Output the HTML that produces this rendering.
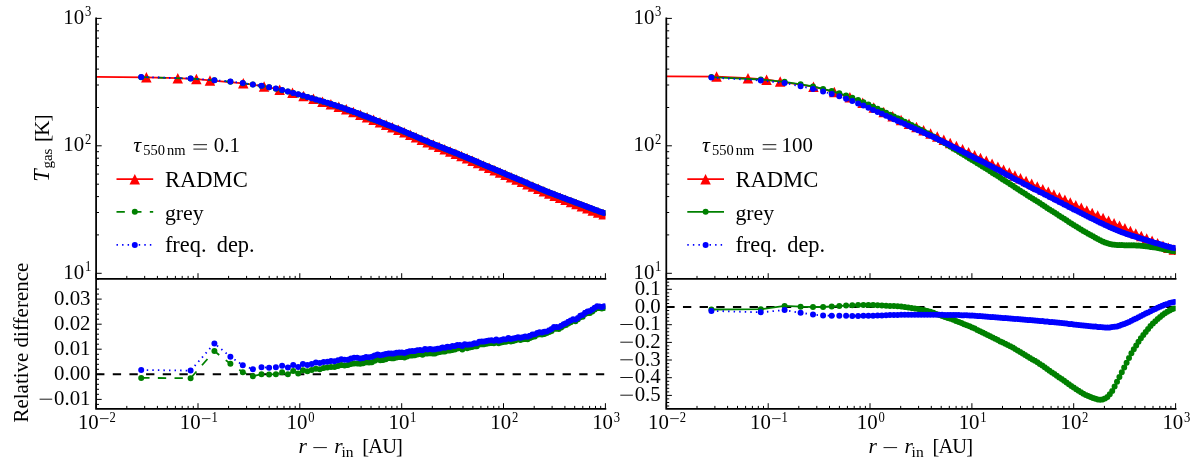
<!DOCTYPE html>
<html><head><meta charset="utf-8"><title>Gas temperature profiles</title>
<style>html,body{margin:0;padding:0;background:#fff}svg{display:block}text{font-family:"Liberation Serif",serif}</style>
</head><body>
<svg width="1200" height="460" viewBox="0 0 1200 460">
<rect width="1200" height="460" fill="#fff"/>
<defs>
<clipPath id="cu0"><rect x="96.1" y="18.4" width="509.4" height="260.4"/></clipPath>
<clipPath id="cl0"><rect x="96.1" y="278.8" width="509.4" height="130"/></clipPath>
<clipPath id="cu1"><rect x="666.3" y="18.4" width="509.4" height="260.4"/></clipPath>
<clipPath id="cl1"><rect x="666.3" y="278.8" width="509.4" height="130"/></clipPath>
</defs>
<g clip-path="url(#cu0)" fill="none">
<path d="M91.1 76.8 L146.4 77.3 L177.8 78.2 L196.4 79.1 L210 80.4 L243.3 83.3 L264.1 86.4 L279.7 89.7 L292.5 92.9 L303.6 96 L313.5 98.9 L322.5 101.6 L330.9 104.2 L338.8 106.7 L346.3 109.4 L353.4 112.1 L360.4 114.7 L367.1 117.3 L373.6 119.8 L380 122.3 L386.2 124.8 L392.4 127.2 L398.4 129.7 L404.4 132.1 L410.3 134.6 L416.1 137.2 L421.9 139.8 L427.7 142.2 L433.4 144.6 L439.1 146.9 L444.7 149.2 L450.3 151.4 L455.9 153.7 L461.5 156 L467.1 158.3 L472.6 160.7 L478.1 163 L483.7 165.4 L489.2 167.8 L494.7 170.1 L500.1 172.4 L505.6 174.8 L511.1 177.1 L516.6 179.5 L522 181.8 L527.5 184.1 L532.9 186.5 L538.4 188.8 L543.9 191.1 L549.3 193.4 L554.7 195.6 L560.2 197.7 L565.6 199.8 L571.1 201.9 L576.5 204 L581.9 206.1 L587.4 208.3 L592.8 210.4 L598.2 212.6 L603.7 214.2 L609.1 214.4" stroke="#f00" stroke-width="1.8"/>
<path d="M146.4 72l5.2 10.5h-10.5zM177.8 72.9l5.2 10.5h-10.5zM196.4 73.8l5.2 10.5h-10.5zM210 75.2l5.2 10.5h-10.5zM243.3 78.1l5.2 10.5h-10.5zM264.1 81.2l5.2 10.5h-10.5zM279.7 84.4l5.2 10.5h-10.5zM292.5 87.6l5.2 10.5h-10.5zM303.6 90.7l5.2 10.5h-10.5zM313.5 93.6l5.2 10.5h-10.5zM322.5 96.4l5.2 10.5h-10.5zM330.9 98.9l5.2 10.5h-10.5zM338.8 101.5l5.2 10.5h-10.5zM346.3 104.1l5.2 10.5h-10.5zM353.4 106.8l5.2 10.5h-10.5zM360.4 109.5l5.2 10.5h-10.5zM367.1 112l5.2 10.5h-10.5zM373.6 114.5l5.2 10.5h-10.5zM380 117l5.2 10.5h-10.5zM386.2 119.5l5.2 10.5h-10.5zM392.4 122l5.2 10.5h-10.5zM398.4 124.4l5.2 10.5h-10.5zM404.4 126.9l5.2 10.5h-10.5zM410.3 129.4l5.2 10.5h-10.5zM416.1 131.9l5.2 10.5h-10.5zM421.9 134.5l5.2 10.5h-10.5zM427.7 137l5.2 10.5h-10.5zM433.4 139.3l5.2 10.5h-10.5zM439.1 141.6l5.2 10.5h-10.5zM444.7 143.9l5.2 10.5h-10.5zM450.3 146.2l5.2 10.5h-10.5zM455.9 148.5l5.2 10.5h-10.5zM461.5 150.7l5.2 10.5h-10.5zM467.1 153.1l5.2 10.5h-10.5zM472.6 155.4l5.2 10.5h-10.5zM478.1 157.8l5.2 10.5h-10.5zM483.7 160.2l5.2 10.5h-10.5zM489.2 162.5l5.2 10.5h-10.5zM494.7 164.9l5.2 10.5h-10.5zM500.1 167.2l5.2 10.5h-10.5zM505.6 169.5l5.2 10.5h-10.5zM511.1 171.9l5.2 10.5h-10.5zM516.6 174.2l5.2 10.5h-10.5zM522 176.5l5.2 10.5h-10.5zM527.5 178.9l5.2 10.5h-10.5zM532.9 181.2l5.2 10.5h-10.5zM538.4 183.6l5.2 10.5h-10.5zM543.9 185.9l5.2 10.5h-10.5zM549.3 188.2l5.2 10.5h-10.5zM554.7 190.4l5.2 10.5h-10.5zM560.2 192.5l5.2 10.5h-10.5zM565.6 194.6l5.2 10.5h-10.5zM571.1 196.7l5.2 10.5h-10.5zM576.5 198.8l5.2 10.5h-10.5zM581.9 200.9l5.2 10.5h-10.5zM587.4 203l5.2 10.5h-10.5zM592.8 205.2l5.2 10.5h-10.5zM598.2 207.3l5.2 10.5h-10.5zM603.7 209l5.2 10.5h-10.5zM609.1 209.1l5.2 10.5h-10.5z" fill="#f00"/>
<path d="M141.2 77.2 L190.6 78.6 L214.4 80.3 L230.4 81.7 L242.8 83.2 L252.9 84.6 L261.5 86 L269.1 87.3 L275.9 88.8 L282.1 90.2 L287.9 91.6 L293.2 93 L298.2 94.4 L302.9 95.7 L307.4 97 L311.7 98.3 L315.9 99.5 L319.8 100.7 L323.7 101.8 L327.4 103 L331 104.1 L334.5 105.2 L338 106.3 L341.3 107.4 L344.6 108.6 L347.9 109.8 L351 110.9 L354.1 112.1 L357.2 113.3 L360.2 114.4 L363.2 115.5 L366.1 116.6 L369 117.8 L371.9 118.9 L374.7 119.9 L377.6 121 L380.3 122.1 L383.1 123.2 L385.8 124.3 L388.6 125.4 L391.3 126.4 L393.9 127.5 L396.6 128.6 L399.3 129.6 L401.9 130.7 L404.5 131.8 L407.1 132.9 L409.7 134 L412.3 135.1 L414.9 136.2 L417.4 137.3 L420 138.4 L422.5 139.6 L425 140.6 L427.6 141.7 L430.1 142.8 L432.6 143.8 L435.1 144.8 L437.6 145.8 L440.1 146.8 L442.6 147.8 L445 148.8 L447.5 149.8 L450 150.8 L452.5 151.8 L454.9 152.8 L457.4 153.7 L459.8 154.7 L462.3 155.8 L464.7 156.7 L467.2 157.8 L469.6 158.8 L472.1 159.8 L474.5 160.8 L476.9 161.9 L479.3 162.9 L481.8 163.9 L484.2 165 L486.6 166 L489 167 L491.5 168.1 L493.9 169.1 L496.3 170.1 L498.7 171.1 L501.1 172.2 L503.5 173.2 L506 174.2 L508.4 175.2 L510.8 176.3 L513.2 177.3 L515.6 178.3 L518 179.3 L520.4 180.3 L522.8 181.3 L525.2 182.4 L527.6 183.4 L530 184.4 L532.4 185.4 L534.8 186.4 L537.2 187.4 L539.6 188.4 L542 189.5 L544.4 190.5 L546.8 191.5 L549.2 192.4 L551.6 193.4 L554 194.3 L556.4 195.2 L558.8 196.2 L561.2 197.1 L563.6 198 L566 198.9 L568.3 199.8 L570.7 200.7 L573.1 201.5 L575.5 202.5 L577.9 203.4 L580.3 204.2 L582.7 205.2 L585.1 206 L587.5 206.9 L589.9 207.9 L592.3 208.8 L594.7 209.7 L597.1 210.6 L599.4 211.6 L601.8 212.3 L604.2 212.9" stroke="#008000" stroke-width="1.8" stroke-dasharray="8.33 8.33"/>
<path d="M141.2 77.2h0M190.6 78.6h0M214.4 80.3h0M230.4 81.7h0M242.8 83.2h0M252.9 84.6h0M261.5 86h0M269.1 87.3h0M275.9 88.8h0M282.1 90.2h0M287.9 91.6h0M293.2 93h0M298.2 94.4h0M302.9 95.7h0M307.4 97h0M311.7 98.3h0M315.9 99.5h0M319.8 100.7h0M323.7 101.8h0M327.4 103h0M331 104.1h0M334.5 105.2h0M338 106.3h0M341.3 107.4h0M344.6 108.6h0M347.9 109.8h0M351 110.9h0M354.1 112.1h0M357.2 113.3h0M360.2 114.4h0M363.2 115.5h0M366.1 116.6h0M369 117.8h0M371.9 118.9h0M374.7 119.9h0M377.6 121h0M380.3 122.1h0M383.1 123.2h0M385.8 124.3h0M388.6 125.4h0M391.3 126.4h0M393.9 127.5h0M396.6 128.6h0M399.3 129.6h0M401.9 130.7h0M404.5 131.8h0M407.1 132.9h0M409.7 134h0M412.3 135.1h0M414.9 136.2h0M417.4 137.3h0M420 138.4h0M422.5 139.6h0M425 140.6h0M427.6 141.7h0M430.1 142.8h0M432.6 143.8h0M435.1 144.8h0M437.6 145.8h0M440.1 146.8h0M442.6 147.8h0M445 148.8h0M447.5 149.8h0M450 150.8h0M452.5 151.8h0M454.9 152.8h0M457.4 153.7h0M459.8 154.7h0M462.3 155.8h0M464.7 156.7h0M467.2 157.8h0M469.6 158.8h0M472.1 159.8h0M474.5 160.8h0M476.9 161.9h0M479.3 162.9h0M481.8 163.9h0M484.2 165h0M486.6 166h0M489 167h0M491.5 168.1h0M493.9 169.1h0M496.3 170.1h0M498.7 171.1h0M501.1 172.2h0M503.5 173.2h0M506 174.2h0M508.4 175.2h0M510.8 176.3h0M513.2 177.3h0M515.6 178.3h0M518 179.3h0M520.4 180.3h0M522.8 181.3h0M525.2 182.4h0M527.6 183.4h0M530 184.4h0M532.4 185.4h0M534.8 186.4h0M537.2 187.4h0M539.6 188.4h0M542 189.5h0M544.4 190.5h0M546.8 191.5h0M549.2 192.4h0M551.6 193.4h0M554 194.3h0M556.4 195.2h0M558.8 196.2h0M561.2 197.1h0M563.6 198h0M566 198.9h0M568.3 199.8h0M570.7 200.7h0M573.1 201.5h0M575.5 202.5h0M577.9 203.4h0M580.3 204.2h0M582.7 205.2h0M585.1 206h0M587.5 206.9h0M589.9 207.9h0M592.3 208.8h0M594.7 209.7h0M597.1 210.6h0M599.4 211.6h0M601.8 212.3h0M604.2 212.9h0" stroke="#008000" stroke-width="6.0" stroke-linecap="round"/>
<path d="M141.2 77 L190.6 78.4 L214.4 80.2 L230.4 81.6 L242.8 83.1 L252.9 84.5 L261.5 85.8 L269.1 87.2 L275.9 88.6 L282.1 90 L287.9 91.5 L293.2 92.9 L298.2 94.3 L302.9 95.6 L307.4 96.9 L311.7 98.2 L315.9 99.4 L319.8 100.6 L323.7 101.7 L327.4 102.8 L331 103.9 L334.5 105.1 L338 106.2 L341.3 107.3 L344.6 108.5 L347.9 109.7 L351 110.8 L354.1 112 L357.2 113.1 L360.2 114.3 L363.2 115.4 L366.1 116.5 L369 117.6 L371.9 118.7 L374.7 119.8 L377.6 120.9 L380.3 122 L383.1 123.1 L385.8 124.2 L388.6 125.3 L391.3 126.3 L393.9 127.4 L396.6 128.5 L399.3 129.5 L401.9 130.6 L404.5 131.7 L407.1 132.8 L409.7 133.9 L412.3 135 L414.9 136.1 L417.4 137.2 L420 138.3 L422.5 139.5 L425 140.5 L427.6 141.6 L430.1 142.7 L432.6 143.7 L435.1 144.7 L437.6 145.7 L440.1 146.7 L442.6 147.7 L445 148.7 L447.5 149.7 L450 150.7 L452.5 151.7 L454.9 152.7 L457.4 153.6 L459.8 154.7 L462.3 155.7 L464.7 156.7 L467.2 157.7 L469.6 158.7 L472.1 159.7 L474.5 160.8 L476.9 161.8 L479.3 162.8 L481.8 163.9 L484.2 164.9 L486.6 165.9 L489 167 L491.5 168 L493.9 169 L496.3 170 L498.7 171.1 L501.1 172.1 L503.5 173.1 L506 174.2 L508.4 175.2 L510.8 176.2 L513.2 177.2 L515.6 178.2 L518 179.2 L520.4 180.3 L522.8 181.3 L525.2 182.3 L527.6 183.3 L530 184.4 L532.4 185.4 L534.8 186.4 L537.2 187.4 L539.6 188.4 L542 189.4 L544.4 190.4 L546.8 191.4 L549.2 192.4 L551.6 193.3 L554 194.3 L556.4 195.2 L558.8 196.1 L561.2 197 L563.6 197.9 L566 198.8 L568.3 199.7 L570.7 200.6 L573.1 201.5 L575.5 202.4 L577.9 203.3 L580.3 204.2 L582.7 205.1 L585.1 206 L587.5 206.9 L589.9 207.8 L592.3 208.7 L594.7 209.7 L597.1 210.6 L599.4 211.5 L601.8 212.3 L604.2 212.9" stroke="#00f" stroke-width="1.8" stroke-dasharray="1.45 4.11"/>
<path d="M141.2 77h0M190.6 78.4h0M214.4 80.2h0M230.4 81.6h0M242.8 83.1h0M252.9 84.5h0M261.5 85.8h0M269.1 87.2h0M275.9 88.6h0M282.1 90h0M287.9 91.5h0M293.2 92.9h0M298.2 94.3h0M302.9 95.6h0M307.4 96.9h0M311.7 98.2h0M315.9 99.4h0M319.8 100.6h0M323.7 101.7h0M327.4 102.8h0M331 103.9h0M334.5 105.1h0M338 106.2h0M341.3 107.3h0M344.6 108.5h0M347.9 109.7h0M351 110.8h0M354.1 112h0M357.2 113.1h0M360.2 114.3h0M363.2 115.4h0M366.1 116.5h0M369 117.6h0M371.9 118.7h0M374.7 119.8h0M377.6 120.9h0M380.3 122h0M383.1 123.1h0M385.8 124.2h0M388.6 125.3h0M391.3 126.3h0M393.9 127.4h0M396.6 128.5h0M399.3 129.5h0M401.9 130.6h0M404.5 131.7h0M407.1 132.8h0M409.7 133.9h0M412.3 135h0M414.9 136.1h0M417.4 137.2h0M420 138.3h0M422.5 139.5h0M425 140.5h0M427.6 141.6h0M430.1 142.7h0M432.6 143.7h0M435.1 144.7h0M437.6 145.7h0M440.1 146.7h0M442.6 147.7h0M445 148.7h0M447.5 149.7h0M450 150.7h0M452.5 151.7h0M454.9 152.7h0M457.4 153.6h0M459.8 154.7h0M462.3 155.7h0M464.7 156.7h0M467.2 157.7h0M469.6 158.7h0M472.1 159.7h0M474.5 160.8h0M476.9 161.8h0M479.3 162.8h0M481.8 163.9h0M484.2 164.9h0M486.6 165.9h0M489 167h0M491.5 168h0M493.9 169h0M496.3 170h0M498.7 171.1h0M501.1 172.1h0M503.5 173.1h0M506 174.2h0M508.4 175.2h0M510.8 176.2h0M513.2 177.2h0M515.6 178.2h0M518 179.2h0M520.4 180.3h0M522.8 181.3h0M525.2 182.3h0M527.6 183.3h0M530 184.4h0M532.4 185.4h0M534.8 186.4h0M537.2 187.4h0M539.6 188.4h0M542 189.4h0M544.4 190.4h0M546.8 191.4h0M549.2 192.4h0M551.6 193.3h0M554 194.3h0M556.4 195.2h0M558.8 196.1h0M561.2 197h0M563.6 197.9h0M566 198.8h0M568.3 199.7h0M570.7 200.6h0M573.1 201.5h0M575.5 202.4h0M577.9 203.3h0M580.3 204.2h0M582.7 205.1h0M585.1 206h0M587.5 206.9h0M589.9 207.8h0M592.3 208.7h0M594.7 209.7h0M597.1 210.6h0M599.4 211.5h0M601.8 212.3h0M604.2 212.9h0" stroke="#00f" stroke-width="6.0" stroke-linecap="round"/>
</g>
<g clip-path="url(#cl0)" fill="none">
<path d="M96.1 374.3H605.4" stroke="#000" stroke-width="2" stroke-dasharray="8.33 8.33"/>
<path d="M141.2 377.9 L190.6 378.2 L214.4 351.1 L230.4 363.8 L242.8 372.3 L252.9 376.2 L261.5 374.2 L269.1 374.4 L275.9 374.2 L282.1 372.3 L287.9 374.2 L293.2 371.1 L298.2 373.5 L302.9 370.3 L307.4 371.2 L311.7 370.1 L315.9 368.7 L319.8 369.2 L323.7 368 L327.4 367.5 L331 367 L334.5 366.9 L338 366 L341.3 365 L344.6 365.6 L347.9 365.1 L351 364.1 L354.1 363.5 L357.2 363.4 L360.2 363.7 L363.2 363.3 L366.1 362.3 L369 362.6 L371.9 362.2 L374.7 360.7 L377.6 359.6 L380.3 360.2 L383.1 360 L385.8 359.2 L388.6 358.1 L391.3 358.2 L393.9 358.3 L396.6 357.6 L399.3 357 L401.9 356.9 L404.5 357.5 L407.1 356.6 L409.7 355.4 L412.3 355.5 L414.9 355.3 L417.4 354.6 L420 354 L422.5 354.7 L425 353.4 L427.6 353.6 L430.1 353.3 L432.6 353.6 L435.1 353.4 L437.6 352.4 L440.1 352.1 L442.6 351.5 L445 351.4 L447.5 350.5 L450 350.4 L452.5 350 L454.9 349.5 L457.4 348.6 L459.8 348.1 L462.3 349.4 L464.7 347.3 L467.2 348.3 L469.6 347.5 L472.1 347.1 L474.5 346.2 L476.9 346.3 L479.3 344.6 L481.8 344.2 L484.2 344.2 L486.6 343.8 L489 343.3 L491.5 343 L493.9 343.3 L496.3 342.4 L498.7 343.2 L501.1 342.4 L503.5 342.1 L506 341.7 L508.4 340.5 L510.8 341.4 L513.2 341 L515.6 340.2 L518 339.3 L520.4 340 L522.8 339.2 L525.2 339 L527.6 339.2 L530 338 L532.4 336.9 L534.8 336.4 L537.2 334.7 L539.6 334.2 L542 334.4 L544.4 333.9 L546.8 333.1 L549.2 332.1 L551.6 330.9 L554 328.8 L556.4 328.8 L558.8 329.1 L561.2 327.4 L563.6 325.8 L566 325.1 L568.3 323.5 L570.7 322.3 L573.1 320.6 L575.5 321.3 L577.9 319.3 L580.3 317.2 L582.7 316.7 L585.1 314.1 L587.5 313.1 L589.9 313 L592.3 311.4 L594.7 309.4 L597.1 308 L599.4 308.1 L601.8 308.5 L604.2 308" stroke="#008000" stroke-width="1.8" stroke-dasharray="8.33 8.33"/>
<path d="M141.2 377.9h0M190.6 378.2h0M214.4 351.1h0M230.4 363.8h0M242.8 372.3h0M252.9 376.2h0M261.5 374.2h0M269.1 374.4h0M275.9 374.2h0M282.1 372.3h0M287.9 374.2h0M293.2 371.1h0M298.2 373.5h0M302.9 370.3h0M307.4 371.2h0M311.7 370.1h0M315.9 368.7h0M319.8 369.2h0M323.7 368h0M327.4 367.5h0M331 367h0M334.5 366.9h0M338 366h0M341.3 365h0M344.6 365.6h0M347.9 365.1h0M351 364.1h0M354.1 363.5h0M357.2 363.4h0M360.2 363.7h0M363.2 363.3h0M366.1 362.3h0M369 362.6h0M371.9 362.2h0M374.7 360.7h0M377.6 359.6h0M380.3 360.2h0M383.1 360h0M385.8 359.2h0M388.6 358.1h0M391.3 358.2h0M393.9 358.3h0M396.6 357.6h0M399.3 357h0M401.9 356.9h0M404.5 357.5h0M407.1 356.6h0M409.7 355.4h0M412.3 355.5h0M414.9 355.3h0M417.4 354.6h0M420 354h0M422.5 354.7h0M425 353.4h0M427.6 353.6h0M430.1 353.3h0M432.6 353.6h0M435.1 353.4h0M437.6 352.4h0M440.1 352.1h0M442.6 351.5h0M445 351.4h0M447.5 350.5h0M450 350.4h0M452.5 350h0M454.9 349.5h0M457.4 348.6h0M459.8 348.1h0M462.3 349.4h0M464.7 347.3h0M467.2 348.3h0M469.6 347.5h0M472.1 347.1h0M474.5 346.2h0M476.9 346.3h0M479.3 344.6h0M481.8 344.2h0M484.2 344.2h0M486.6 343.8h0M489 343.3h0M491.5 343h0M493.9 343.3h0M496.3 342.4h0M498.7 343.2h0M501.1 342.4h0M503.5 342.1h0M506 341.7h0M508.4 340.5h0M510.8 341.4h0M513.2 341h0M515.6 340.2h0M518 339.3h0M520.4 340h0M522.8 339.2h0M525.2 339h0M527.6 339.2h0M530 338h0M532.4 336.9h0M534.8 336.4h0M537.2 334.7h0M539.6 334.2h0M542 334.4h0M544.4 333.9h0M546.8 333.1h0M549.2 332.1h0M551.6 330.9h0M554 328.8h0M556.4 328.8h0M558.8 329.1h0M561.2 327.4h0M563.6 325.8h0M566 325.1h0M568.3 323.5h0M570.7 322.3h0M573.1 320.6h0M575.5 321.3h0M577.9 319.3h0M580.3 317.2h0M582.7 316.7h0M585.1 314.1h0M587.5 313.1h0M589.9 313h0M592.3 311.4h0M594.7 309.4h0M597.1 308h0M599.4 308.1h0M601.8 308.5h0M604.2 308h0" stroke="#008000" stroke-width="6.0" stroke-linecap="round"/>
<path d="M141.2 370 L190.6 370.6 L214.4 343.4 L230.4 356.7 L242.8 365.2 L252.9 369.2 L261.5 367.2 L269.1 367.7 L275.9 367.2 L282.1 365.8 L287.9 367.5 L293.2 364.9 L298.2 366.9 L302.9 364.1 L307.4 364.9 L311.7 364.1 L315.9 362.4 L319.8 363 L323.7 361.9 L327.4 361.7 L331 361 L334.5 361.3 L338 360.3 L341.3 359.3 L344.6 359.7 L347.9 359.7 L351 358.4 L354.1 357.8 L357.2 357.7 L360.2 358.4 L363.2 358.1 L366.1 357.1 L369 357.2 L371.9 356.7 L374.7 355.4 L377.6 354.5 L380.3 355.3 L383.1 354.8 L385.8 354.1 L388.6 353.5 L391.3 353.5 L393.9 353.4 L396.6 352.7 L399.3 352.4 L401.9 352.4 L404.5 352.9 L407.1 352.1 L409.7 351.2 L412.3 350.9 L414.9 351 L417.4 350.2 L420 349.9 L422.5 350.2 L425 349.1 L427.6 349.6 L430.1 349 L432.6 349.5 L435.1 349.2 L437.6 348.8 L440.1 348.5 L442.6 347.6 L445 347.8 L447.5 346.8 L450 347 L452.5 346.1 L454.9 346 L457.4 344.9 L459.8 344.9 L462.3 346 L464.7 344.2 L467.2 344.8 L469.6 344.4 L472.1 344.2 L474.5 343.3 L476.9 343.2 L479.3 341.8 L481.8 341.5 L484.2 341.4 L486.6 340.9 L489 340.5 L491.5 340.2 L493.9 340.7 L496.3 339.6 L498.7 340.8 L501.1 339.9 L503.5 339.3 L506 339.3 L508.4 338.1 L510.8 339.1 L513.2 338.6 L515.6 338.1 L518 337.3 L520.4 337.7 L522.8 337.2 L525.2 336.6 L527.6 336.8 L530 335.7 L532.4 334.6 L534.8 334.3 L537.2 332.9 L539.6 332.2 L542 332.5 L544.4 331.8 L546.8 331.4 L549.2 330.3 L551.6 328.9 L554 327.1 L556.4 327 L558.8 327 L561.2 325.8 L563.6 324.2 L566 323.2 L568.3 321.7 L570.7 320.5 L573.1 319.2 L575.5 319.6 L577.9 317.9 L580.3 315.7 L582.7 314.9 L585.1 312.7 L587.5 311.6 L589.9 311.1 L592.3 309.5 L594.7 307.8 L597.1 306.3 L599.4 306.5 L601.8 307 L604.2 306.3" stroke="#00f" stroke-width="1.8" stroke-dasharray="1.45 4.11"/>
<path d="M141.2 370h0M190.6 370.6h0M214.4 343.4h0M230.4 356.7h0M242.8 365.2h0M252.9 369.2h0M261.5 367.2h0M269.1 367.7h0M275.9 367.2h0M282.1 365.8h0M287.9 367.5h0M293.2 364.9h0M298.2 366.9h0M302.9 364.1h0M307.4 364.9h0M311.7 364.1h0M315.9 362.4h0M319.8 363h0M323.7 361.9h0M327.4 361.7h0M331 361h0M334.5 361.3h0M338 360.3h0M341.3 359.3h0M344.6 359.7h0M347.9 359.7h0M351 358.4h0M354.1 357.8h0M357.2 357.7h0M360.2 358.4h0M363.2 358.1h0M366.1 357.1h0M369 357.2h0M371.9 356.7h0M374.7 355.4h0M377.6 354.5h0M380.3 355.3h0M383.1 354.8h0M385.8 354.1h0M388.6 353.5h0M391.3 353.5h0M393.9 353.4h0M396.6 352.7h0M399.3 352.4h0M401.9 352.4h0M404.5 352.9h0M407.1 352.1h0M409.7 351.2h0M412.3 350.9h0M414.9 351h0M417.4 350.2h0M420 349.9h0M422.5 350.2h0M425 349.1h0M427.6 349.6h0M430.1 349h0M432.6 349.5h0M435.1 349.2h0M437.6 348.8h0M440.1 348.5h0M442.6 347.6h0M445 347.8h0M447.5 346.8h0M450 347h0M452.5 346.1h0M454.9 346h0M457.4 344.9h0M459.8 344.9h0M462.3 346h0M464.7 344.2h0M467.2 344.8h0M469.6 344.4h0M472.1 344.2h0M474.5 343.3h0M476.9 343.2h0M479.3 341.8h0M481.8 341.5h0M484.2 341.4h0M486.6 340.9h0M489 340.5h0M491.5 340.2h0M493.9 340.7h0M496.3 339.6h0M498.7 340.8h0M501.1 339.9h0M503.5 339.3h0M506 339.3h0M508.4 338.1h0M510.8 339.1h0M513.2 338.6h0M515.6 338.1h0M518 337.3h0M520.4 337.7h0M522.8 337.2h0M525.2 336.6h0M527.6 336.8h0M530 335.7h0M532.4 334.6h0M534.8 334.3h0M537.2 332.9h0M539.6 332.2h0M542 332.5h0M544.4 331.8h0M546.8 331.4h0M549.2 330.3h0M551.6 328.9h0M554 327.1h0M556.4 327h0M558.8 327h0M561.2 325.8h0M563.6 324.2h0M566 323.2h0M568.3 321.7h0M570.7 320.5h0M573.1 319.2h0M575.5 319.6h0M577.9 317.9h0M580.3 315.7h0M582.7 314.9h0M585.1 312.7h0M587.5 311.6h0M589.9 311.1h0M592.3 309.5h0M594.7 307.8h0M597.1 306.3h0M599.4 306.5h0M601.8 307h0M604.2 306.3h0" stroke="#00f" stroke-width="6.0" stroke-linecap="round"/>
</g>
<g clip-path="url(#cu1)" fill="none">
<path d="M661.3 76.4 L716.6 76.6 L748 78.2 L766.6 79.6 L780.2 81.6 L813.5 86.7 L834.3 92.1 L849.9 97.4 L862.7 102.6 L873.8 107.6 L883.7 112.1 L892.7 116.2 L901.1 120.1 L909 123.7 L916.5 127.1 L923.6 130.3 L930.6 133.5 L937.3 136.6 L943.8 139.7 L950.2 142.9 L956.4 146.1 L962.6 149.2 L968.6 152.2 L974.6 155.1 L980.5 158 L986.3 160.9 L992.1 163.7 L997.9 166.7 L1003.6 169.6 L1009.3 172.6 L1014.9 175.5 L1020.5 178.3 L1026.1 181 L1031.7 183.8 L1037.3 186.5 L1042.8 189.1 L1048.3 191.8 L1053.9 194.5 L1059.4 197.2 L1064.9 199.9 L1070.3 202.5 L1075.8 205.2 L1081.3 207.8 L1086.8 210.4 L1092.2 213 L1097.7 215.6 L1103.1 218.1 L1108.6 220.6 L1114.1 223.2 L1119.5 225.8 L1124.9 228.4 L1130.4 230.9 L1135.8 233.5 L1141.3 235.9 L1146.7 238.4 L1152.1 240.9 L1157.6 243.3 L1163 245.7 L1168.4 247.9 L1173.9 249.5 L1179.3 249.6" stroke="#f00" stroke-width="1.8"/>
<path d="M716.6 71.3l5.2 10.5h-10.5zM748 72.9l5.2 10.5h-10.5zM766.6 74.4l5.2 10.5h-10.5zM780.2 76.3l5.2 10.5h-10.5zM813.5 81.4l5.2 10.5h-10.5zM834.3 86.8l5.2 10.5h-10.5zM849.9 92.1l5.2 10.5h-10.5zM862.7 97.4l5.2 10.5h-10.5zM873.8 102.3l5.2 10.5h-10.5zM883.7 106.8l5.2 10.5h-10.5zM892.7 111l5.2 10.5h-10.5zM901.1 114.8l5.2 10.5h-10.5zM909 118.4l5.2 10.5h-10.5zM916.5 121.8l5.2 10.5h-10.5zM923.6 125.1l5.2 10.5h-10.5zM930.6 128.2l5.2 10.5h-10.5zM937.3 131.3l5.2 10.5h-10.5zM943.8 134.5l5.2 10.5h-10.5zM950.2 137.7l5.2 10.5h-10.5zM956.4 140.8l5.2 10.5h-10.5zM962.6 143.9l5.2 10.5h-10.5zM968.6 147l5.2 10.5h-10.5zM974.6 149.9l5.2 10.5h-10.5zM980.5 152.8l5.2 10.5h-10.5zM986.3 155.6l5.2 10.5h-10.5zM992.1 158.5l5.2 10.5h-10.5zM997.9 161.4l5.2 10.5h-10.5zM1003.6 164.4l5.2 10.5h-10.5zM1009.3 167.3l5.2 10.5h-10.5zM1014.9 170.2l5.2 10.5h-10.5zM1020.5 173l5.2 10.5h-10.5zM1026.1 175.8l5.2 10.5h-10.5zM1031.7 178.5l5.2 10.5h-10.5zM1037.3 181.2l5.2 10.5h-10.5zM1042.8 183.9l5.2 10.5h-10.5zM1048.3 186.6l5.2 10.5h-10.5zM1053.9 189.2l5.2 10.5h-10.5zM1059.4 191.9l5.2 10.5h-10.5zM1064.9 194.6l5.2 10.5h-10.5zM1070.3 197.3l5.2 10.5h-10.5zM1075.8 199.9l5.2 10.5h-10.5zM1081.3 202.6l5.2 10.5h-10.5zM1086.8 205.2l5.2 10.5h-10.5zM1092.2 207.8l5.2 10.5h-10.5zM1097.7 210.3l5.2 10.5h-10.5zM1103.1 212.8l5.2 10.5h-10.5zM1108.6 215.4l5.2 10.5h-10.5zM1114.1 217.9l5.2 10.5h-10.5zM1119.5 220.5l5.2 10.5h-10.5zM1124.9 223.1l5.2 10.5h-10.5zM1130.4 225.7l5.2 10.5h-10.5zM1135.8 228.2l5.2 10.5h-10.5zM1141.3 230.7l5.2 10.5h-10.5zM1146.7 233.2l5.2 10.5h-10.5zM1152.1 235.6l5.2 10.5h-10.5zM1157.6 238.1l5.2 10.5h-10.5zM1163 240.4l5.2 10.5h-10.5zM1168.4 242.6l5.2 10.5h-10.5zM1173.9 244.3l5.2 10.5h-10.5zM1179.3 244.4l5.2 10.5h-10.5z" fill="#f00"/>
<path d="M711.4 77.1 L760.8 79.5 L784.6 81.8 L800.6 84.3 L813 86.5 L823.1 88.9 L831.7 91.1 L839.3 93.3 L846.1 95.5 L852.3 97.8 L858.1 100 L863.4 102.3 L868.4 104.5 L873.1 106.7 L877.6 108.8 L881.9 110.8 L886.1 112.8 L890 114.7 L893.9 116.5 L897.6 118.3 L901.2 120 L904.7 121.7 L908.2 123.5 L911.5 125.1 L914.8 126.8 L918.1 128.4 L921.2 130.1 L924.3 131.7 L927.4 133.2 L930.4 134.9 L933.4 136.6 L936.3 138.2 L939.2 139.9 L942.1 141.6 L944.9 143.3 L947.8 145 L950.5 146.7 L953.3 148.4 L956 150.1 L958.8 151.8 L961.5 153.5 L964.1 155.1 L966.8 156.7 L969.5 158.4 L972.1 160 L974.7 161.6 L977.3 163.2 L979.9 164.8 L982.5 166.4 L985.1 168 L987.6 169.6 L990.2 171.2 L992.7 172.9 L995.2 174.5 L997.8 176.1 L1000.3 177.7 L1002.8 179.4 L1005.3 181 L1007.8 182.6 L1010.3 184.2 L1012.8 185.8 L1015.2 187.4 L1017.7 189.1 L1020.2 190.7 L1022.7 192.3 L1025.1 193.8 L1027.6 195.4 L1030 197 L1032.5 198.5 L1034.9 200 L1037.4 201.6 L1039.8 203.1 L1042.3 204.7 L1044.7 206.3 L1047.1 207.9 L1049.5 209.4 L1052 211 L1054.4 212.6 L1056.8 214.1 L1059.2 215.7 L1061.7 217.2 L1064.1 218.8 L1066.5 220.3 L1068.9 221.9 L1071.3 223.4 L1073.7 224.9 L1076.2 226.5 L1078.6 228 L1081 229.4 L1083.4 230.9 L1085.8 232.3 L1088.2 233.7 L1090.6 235 L1093 236.3 L1095.4 237.7 L1097.8 239 L1100.2 240.2 L1102.6 241.4 L1105 242.4 L1107.4 243.3 L1109.8 243.9 L1112.2 244.4 L1114.6 244.7 L1117 244.9 L1119.4 245.1 L1121.8 245.1 L1124.2 245.2 L1126.6 245.2 L1129 245.2 L1131.4 245.2 L1133.8 245.3 L1136.2 245.5 L1138.5 245.6 L1140.9 245.8 L1143.3 246 L1145.7 246.3 L1148.1 246.6 L1150.5 246.9 L1152.9 247.2 L1155.3 247.6 L1157.7 248 L1160.1 248.5 L1162.5 249 L1164.9 249.5 L1167.3 250 L1169.6 250.5 L1172 251 L1174.4 251.3" stroke="#008000" stroke-width="1.8"/>
<path d="M711.4 77.1h0M760.8 79.5h0M784.6 81.8h0M800.6 84.3h0M813 86.5h0M823.1 88.9h0M831.7 91.1h0M839.3 93.3h0M846.1 95.5h0M852.3 97.8h0M858.1 100h0M863.4 102.3h0M868.4 104.5h0M873.1 106.7h0M877.6 108.8h0M881.9 110.8h0M886.1 112.8h0M890 114.7h0M893.9 116.5h0M897.6 118.3h0M901.2 120h0M904.7 121.7h0M908.2 123.5h0M911.5 125.1h0M914.8 126.8h0M918.1 128.4h0M921.2 130.1h0M924.3 131.7h0M927.4 133.2h0M930.4 134.9h0M933.4 136.6h0M936.3 138.2h0M939.2 139.9h0M942.1 141.6h0M944.9 143.3h0M947.8 145h0M950.5 146.7h0M953.3 148.4h0M956 150.1h0M958.8 151.8h0M961.5 153.5h0M964.1 155.1h0M966.8 156.7h0M969.5 158.4h0M972.1 160h0M974.7 161.6h0M977.3 163.2h0M979.9 164.8h0M982.5 166.4h0M985.1 168h0M987.6 169.6h0M990.2 171.2h0M992.7 172.9h0M995.2 174.5h0M997.8 176.1h0M1000.3 177.7h0M1002.8 179.4h0M1005.3 181h0M1007.8 182.6h0M1010.3 184.2h0M1012.8 185.8h0M1015.2 187.4h0M1017.7 189.1h0M1020.2 190.7h0M1022.7 192.3h0M1025.1 193.8h0M1027.6 195.4h0M1030 197h0M1032.5 198.5h0M1034.9 200h0M1037.4 201.6h0M1039.8 203.1h0M1042.3 204.7h0M1044.7 206.3h0M1047.1 207.9h0M1049.5 209.4h0M1052 211h0M1054.4 212.6h0M1056.8 214.1h0M1059.2 215.7h0M1061.7 217.2h0M1064.1 218.8h0M1066.5 220.3h0M1068.9 221.9h0M1071.3 223.4h0M1073.7 224.9h0M1076.2 226.5h0M1078.6 228h0M1081 229.4h0M1083.4 230.9h0M1085.8 232.3h0M1088.2 233.7h0M1090.6 235h0M1093 236.3h0M1095.4 237.7h0M1097.8 239h0M1100.2 240.2h0M1102.6 241.4h0M1105 242.4h0M1107.4 243.3h0M1109.8 243.9h0M1112.2 244.4h0M1114.6 244.7h0M1117 244.9h0M1119.4 245.1h0M1121.8 245.1h0M1124.2 245.2h0M1126.6 245.2h0M1129 245.2h0M1131.4 245.2h0M1133.8 245.3h0M1136.2 245.5h0M1138.5 245.6h0M1140.9 245.8h0M1143.3 246h0M1145.7 246.3h0M1148.1 246.6h0M1150.5 246.9h0M1152.9 247.2h0M1155.3 247.6h0M1157.7 248h0M1160.1 248.5h0M1162.5 249h0M1164.9 249.5h0M1167.3 250h0M1169.6 250.5h0M1172 251h0M1174.4 251.3h0" stroke="#008000" stroke-width="6.0" stroke-linecap="round"/>
<path d="M711.4 77.5 L760.8 80.5 L784.6 83.1 L800.6 86.2 L813 88.9 L823.1 91.5 L831.7 94 L839.3 96.2 L846.1 98.7 L852.3 101 L858.1 103.4 L863.4 105.6 L868.4 107.8 L873.1 109.9 L877.6 111.9 L881.9 113.8 L886.1 115.7 L890 117.5 L893.9 119.2 L897.6 120.9 L901.2 122.5 L904.7 124.1 L908.2 125.7 L911.5 127.2 L914.8 128.7 L918.1 130.2 L921.2 131.6 L924.3 133 L927.4 134.4 L930.4 135.8 L933.4 137.1 L936.3 138.5 L939.2 139.9 L942.1 141.3 L944.9 142.7 L947.8 144.1 L950.5 145.5 L953.3 146.9 L956 148.3 L958.8 149.7 L961.5 151.1 L964.1 152.5 L966.8 153.8 L969.5 155.2 L972.1 156.5 L974.7 157.9 L977.3 159.2 L979.9 160.5 L982.5 161.8 L985.1 163.1 L987.6 164.5 L990.2 165.8 L992.7 167.1 L995.2 168.4 L997.8 169.8 L1000.3 171.1 L1002.8 172.5 L1005.3 173.9 L1007.8 175.2 L1010.3 176.6 L1012.8 177.9 L1015.2 179.2 L1017.7 180.5 L1020.2 181.8 L1022.7 183.1 L1025.1 184.4 L1027.6 185.6 L1030 186.9 L1032.5 188.2 L1034.9 189.4 L1037.4 190.6 L1039.8 191.9 L1042.3 193.1 L1044.7 194.4 L1047.1 195.6 L1049.5 196.9 L1052 198.1 L1054.4 199.4 L1056.8 200.6 L1059.2 201.9 L1061.7 203.1 L1064.1 204.4 L1066.5 205.6 L1068.9 206.9 L1071.3 208.1 L1073.7 209.4 L1076.2 210.6 L1078.6 211.8 L1081 213.1 L1083.4 214.3 L1085.8 215.5 L1088.2 216.7 L1090.6 217.9 L1093 219.1 L1095.4 220.3 L1097.8 221.5 L1100.2 222.7 L1102.6 223.8 L1105 225 L1107.4 226.1 L1109.8 227.2 L1112.2 228.3 L1114.6 229.3 L1117 230.3 L1119.4 231.3 L1121.8 232.2 L1124.2 233 L1126.6 233.9 L1129 234.8 L1131.4 235.5 L1133.8 236.3 L1136.2 237.1 L1138.5 237.8 L1140.9 238.6 L1143.3 239.3 L1145.7 240 L1148.1 240.7 L1150.5 241.5 L1152.9 242.2 L1155.3 242.9 L1157.7 243.6 L1160.1 244.3 L1162.5 245 L1164.9 245.8 L1167.3 246.4 L1169.6 247.1 L1172 247.7 L1174.4 248" stroke="#00f" stroke-width="1.8" stroke-dasharray="1.45 4.11"/>
<path d="M711.4 77.5h0M760.8 80.5h0M784.6 83.1h0M800.6 86.2h0M813 88.9h0M823.1 91.5h0M831.7 94h0M839.3 96.2h0M846.1 98.7h0M852.3 101h0M858.1 103.4h0M863.4 105.6h0M868.4 107.8h0M873.1 109.9h0M877.6 111.9h0M881.9 113.8h0M886.1 115.7h0M890 117.5h0M893.9 119.2h0M897.6 120.9h0M901.2 122.5h0M904.7 124.1h0M908.2 125.7h0M911.5 127.2h0M914.8 128.7h0M918.1 130.2h0M921.2 131.6h0M924.3 133h0M927.4 134.4h0M930.4 135.8h0M933.4 137.1h0M936.3 138.5h0M939.2 139.9h0M942.1 141.3h0M944.9 142.7h0M947.8 144.1h0M950.5 145.5h0M953.3 146.9h0M956 148.3h0M958.8 149.7h0M961.5 151.1h0M964.1 152.5h0M966.8 153.8h0M969.5 155.2h0M972.1 156.5h0M974.7 157.9h0M977.3 159.2h0M979.9 160.5h0M982.5 161.8h0M985.1 163.1h0M987.6 164.5h0M990.2 165.8h0M992.7 167.1h0M995.2 168.4h0M997.8 169.8h0M1000.3 171.1h0M1002.8 172.5h0M1005.3 173.9h0M1007.8 175.2h0M1010.3 176.6h0M1012.8 177.9h0M1015.2 179.2h0M1017.7 180.5h0M1020.2 181.8h0M1022.7 183.1h0M1025.1 184.4h0M1027.6 185.6h0M1030 186.9h0M1032.5 188.2h0M1034.9 189.4h0M1037.4 190.6h0M1039.8 191.9h0M1042.3 193.1h0M1044.7 194.4h0M1047.1 195.6h0M1049.5 196.9h0M1052 198.1h0M1054.4 199.4h0M1056.8 200.6h0M1059.2 201.9h0M1061.7 203.1h0M1064.1 204.4h0M1066.5 205.6h0M1068.9 206.9h0M1071.3 208.1h0M1073.7 209.4h0M1076.2 210.6h0M1078.6 211.8h0M1081 213.1h0M1083.4 214.3h0M1085.8 215.5h0M1088.2 216.7h0M1090.6 217.9h0M1093 219.1h0M1095.4 220.3h0M1097.8 221.5h0M1100.2 222.7h0M1102.6 223.8h0M1105 225h0M1107.4 226.1h0M1109.8 227.2h0M1112.2 228.3h0M1114.6 229.3h0M1117 230.3h0M1119.4 231.3h0M1121.8 232.2h0M1124.2 233h0M1126.6 233.9h0M1129 234.8h0M1131.4 235.5h0M1133.8 236.3h0M1136.2 237.1h0M1138.5 237.8h0M1140.9 238.6h0M1143.3 239.3h0M1145.7 240h0M1148.1 240.7h0M1150.5 241.5h0M1152.9 242.2h0M1155.3 242.9h0M1157.7 243.6h0M1160.1 244.3h0M1162.5 245h0M1164.9 245.8h0M1167.3 246.4h0M1169.6 247.1h0M1172 247.7h0M1174.4 248h0" stroke="#00f" stroke-width="6.0" stroke-linecap="round"/>
</g>
<g clip-path="url(#cl1)" fill="none">
<path d="M666.3 307H1175.6" stroke="#000" stroke-width="2" stroke-dasharray="8.33 8.33"/>
<path d="M711.4 309.5 L760.8 309.2 L784.6 305.9 L800.6 306.7 L813 307 L823.1 307 L831.7 306.5 L839.3 306 L846.1 305.6 L852.3 305.3 L858.1 305 L863.4 304.9 L868.4 305 L873.1 305.1 L877.6 305.3 L881.9 305.5 L886.1 305.7 L890 305.9 L893.9 306.1 L897.6 306.3 L901.2 306.5 L904.7 306.9 L908.2 307.4 L911.5 307.9 L914.8 308.4 L918.1 309 L921.2 309.7 L924.3 310.3 L927.4 310.9 L930.4 311.8 L933.4 312.8 L936.3 313.9 L939.2 314.9 L942.1 315.9 L944.9 316.9 L947.8 317.9 L950.5 318.8 L953.3 319.8 L956 320.9 L958.8 322 L961.5 323.1 L964.1 324.2 L966.8 325.3 L969.5 326.3 L972.1 327.4 L974.7 328.6 L977.3 329.9 L979.9 331.2 L982.5 332.5 L985.1 333.7 L987.6 335 L990.2 336.3 L992.7 337.6 L995.2 338.8 L997.8 340.1 L1000.3 341.4 L1002.8 342.6 L1005.3 343.8 L1007.8 345.1 L1010.3 346.3 L1012.8 347.6 L1015.2 349.1 L1017.7 350.6 L1020.2 352 L1022.7 353.5 L1025.1 355 L1027.6 356.5 L1030 357.9 L1032.5 359.4 L1034.9 360.8 L1037.4 362.3 L1039.8 363.9 L1042.3 365.6 L1044.7 367.3 L1047.1 369 L1049.5 370.7 L1052 372.4 L1054.4 374.1 L1056.8 375.8 L1059.2 377.4 L1061.7 379.1 L1064.1 380.8 L1066.5 382.5 L1068.9 384.2 L1071.3 385.9 L1073.7 387.6 L1076.2 389.2 L1078.6 390.8 L1081 392.2 L1083.4 393.7 L1085.8 395 L1088.2 396.1 L1090.6 397 L1093 397.9 L1095.4 398.7 L1097.8 399.4 L1100.2 399.7 L1102.6 399.5 L1105 398.6 L1107.4 397 L1109.8 394.3 L1112.2 391 L1114.6 386.6 L1117 381.8 L1119.4 377 L1121.8 372.3 L1124.2 367.5 L1126.6 362.7 L1129 357.9 L1131.4 353.3 L1133.8 349.2 L1136.2 345.4 L1138.5 341.8 L1140.9 338.3 L1143.3 335 L1145.7 331.9 L1148.1 329 L1150.5 326.1 L1152.9 323.6 L1155.3 321.2 L1157.7 318.9 L1160.1 316.9 L1162.5 315 L1164.9 313.3 L1167.3 311.8 L1169.6 310.4 L1172 309.2 L1174.4 308.4" stroke="#008000" stroke-width="1.8"/>
<path d="M711.4 309.5h0M760.8 309.2h0M784.6 305.9h0M800.6 306.7h0M813 307h0M823.1 307h0M831.7 306.5h0M839.3 306h0M846.1 305.6h0M852.3 305.3h0M858.1 305h0M863.4 304.9h0M868.4 305h0M873.1 305.1h0M877.6 305.3h0M881.9 305.5h0M886.1 305.7h0M890 305.9h0M893.9 306.1h0M897.6 306.3h0M901.2 306.5h0M904.7 306.9h0M908.2 307.4h0M911.5 307.9h0M914.8 308.4h0M918.1 309h0M921.2 309.7h0M924.3 310.3h0M927.4 310.9h0M930.4 311.8h0M933.4 312.8h0M936.3 313.9h0M939.2 314.9h0M942.1 315.9h0M944.9 316.9h0M947.8 317.9h0M950.5 318.8h0M953.3 319.8h0M956 320.9h0M958.8 322h0M961.5 323.1h0M964.1 324.2h0M966.8 325.3h0M969.5 326.3h0M972.1 327.4h0M974.7 328.6h0M977.3 329.9h0M979.9 331.2h0M982.5 332.5h0M985.1 333.7h0M987.6 335h0M990.2 336.3h0M992.7 337.6h0M995.2 338.8h0M997.8 340.1h0M1000.3 341.4h0M1002.8 342.6h0M1005.3 343.8h0M1007.8 345.1h0M1010.3 346.3h0M1012.8 347.6h0M1015.2 349.1h0M1017.7 350.6h0M1020.2 352h0M1022.7 353.5h0M1025.1 355h0M1027.6 356.5h0M1030 357.9h0M1032.5 359.4h0M1034.9 360.8h0M1037.4 362.3h0M1039.8 363.9h0M1042.3 365.6h0M1044.7 367.3h0M1047.1 369h0M1049.5 370.7h0M1052 372.4h0M1054.4 374.1h0M1056.8 375.8h0M1059.2 377.4h0M1061.7 379.1h0M1064.1 380.8h0M1066.5 382.5h0M1068.9 384.2h0M1071.3 385.9h0M1073.7 387.6h0M1076.2 389.2h0M1078.6 390.8h0M1081 392.2h0M1083.4 393.7h0M1085.8 395h0M1088.2 396.1h0M1090.6 397h0M1093 397.9h0M1095.4 398.7h0M1097.8 399.4h0M1100.2 399.7h0M1102.6 399.5h0M1105 398.6h0M1107.4 397h0M1109.8 394.3h0M1112.2 391h0M1114.6 386.6h0M1117 381.8h0M1119.4 377h0M1121.8 372.3h0M1124.2 367.5h0M1126.6 362.7h0M1129 357.9h0M1131.4 353.3h0M1133.8 349.2h0M1136.2 345.4h0M1138.5 341.8h0M1140.9 338.3h0M1143.3 335h0M1145.7 331.9h0M1148.1 329h0M1150.5 326.1h0M1152.9 323.6h0M1155.3 321.2h0M1157.7 318.9h0M1160.1 316.9h0M1162.5 315h0M1164.9 313.3h0M1167.3 311.8h0M1169.6 310.4h0M1172 309.2h0M1174.4 308.4h0" stroke="#008000" stroke-width="6.0" stroke-linecap="round"/>
<path d="M711.4 310.9 L760.8 312.3 L784.6 310.1 L800.6 312.8 L813 314.6 L823.1 315.5 L831.7 315.7 L839.3 315.8 L846.1 315.8 L852.3 316 L858.1 315.9 L863.4 315.8 L868.4 315.7 L873.1 315.7 L877.6 315.6 L881.9 315.4 L886.1 315.3 L890 315.1 L893.9 315 L897.6 314.9 L901.2 314.8 L904.7 314.7 L908.2 314.7 L911.5 314.7 L914.8 314.7 L918.1 314.7 L921.2 314.7 L924.3 314.7 L927.4 314.7 L930.4 314.7 L933.4 314.8 L936.3 314.8 L939.2 314.8 L942.1 314.8 L944.9 314.9 L947.8 314.9 L950.5 314.9 L953.3 315 L956 315 L958.8 315.1 L961.5 315.2 L964.1 315.2 L966.8 315.3 L969.5 315.4 L972.1 315.6 L974.7 315.7 L977.3 315.9 L979.9 316.1 L982.5 316.3 L985.1 316.5 L987.6 316.7 L990.2 316.9 L992.7 317.1 L995.2 317.3 L997.8 317.5 L1000.3 317.7 L1002.8 317.9 L1005.3 318.1 L1007.8 318.3 L1010.3 318.5 L1012.8 318.7 L1015.2 318.9 L1017.7 319.1 L1020.2 319.3 L1022.7 319.5 L1025.1 319.7 L1027.6 319.9 L1030 320.1 L1032.5 320.3 L1034.9 320.5 L1037.4 320.7 L1039.8 320.9 L1042.3 321.1 L1044.7 321.4 L1047.1 321.6 L1049.5 321.9 L1052 322.1 L1054.4 322.3 L1056.8 322.6 L1059.2 322.8 L1061.7 323.1 L1064.1 323.3 L1066.5 323.6 L1068.9 323.9 L1071.3 324.1 L1073.7 324.4 L1076.2 324.7 L1078.6 325 L1081 325.2 L1083.4 325.5 L1085.8 325.7 L1088.2 325.9 L1090.6 326.2 L1093 326.4 L1095.4 326.6 L1097.8 326.9 L1100.2 327.1 L1102.6 327.3 L1105 327.5 L1107.4 327.6 L1109.8 327.4 L1112.2 327.1 L1114.6 326.8 L1117 326.4 L1119.4 325.7 L1121.8 324.8 L1124.2 323.9 L1126.6 323 L1129 321.9 L1131.4 320.8 L1133.8 319.6 L1136.2 318.4 L1138.5 317.2 L1140.9 316 L1143.3 314.8 L1145.7 313.6 L1148.1 312.5 L1150.5 311.3 L1152.9 310.1 L1155.3 308.9 L1157.7 307.7 L1160.1 306.7 L1162.5 305.7 L1164.9 304.8 L1167.3 304 L1169.6 303.1 L1172 302.5 L1174.4 301.9" stroke="#00f" stroke-width="1.8" stroke-dasharray="1.45 4.11"/>
<path d="M711.4 310.9h0M760.8 312.3h0M784.6 310.1h0M800.6 312.8h0M813 314.6h0M823.1 315.5h0M831.7 315.7h0M839.3 315.8h0M846.1 315.8h0M852.3 316h0M858.1 315.9h0M863.4 315.8h0M868.4 315.7h0M873.1 315.7h0M877.6 315.6h0M881.9 315.4h0M886.1 315.3h0M890 315.1h0M893.9 315h0M897.6 314.9h0M901.2 314.8h0M904.7 314.7h0M908.2 314.7h0M911.5 314.7h0M914.8 314.7h0M918.1 314.7h0M921.2 314.7h0M924.3 314.7h0M927.4 314.7h0M930.4 314.7h0M933.4 314.8h0M936.3 314.8h0M939.2 314.8h0M942.1 314.8h0M944.9 314.9h0M947.8 314.9h0M950.5 314.9h0M953.3 315h0M956 315h0M958.8 315.1h0M961.5 315.2h0M964.1 315.2h0M966.8 315.3h0M969.5 315.4h0M972.1 315.6h0M974.7 315.7h0M977.3 315.9h0M979.9 316.1h0M982.5 316.3h0M985.1 316.5h0M987.6 316.7h0M990.2 316.9h0M992.7 317.1h0M995.2 317.3h0M997.8 317.5h0M1000.3 317.7h0M1002.8 317.9h0M1005.3 318.1h0M1007.8 318.3h0M1010.3 318.5h0M1012.8 318.7h0M1015.2 318.9h0M1017.7 319.1h0M1020.2 319.3h0M1022.7 319.5h0M1025.1 319.7h0M1027.6 319.9h0M1030 320.1h0M1032.5 320.3h0M1034.9 320.5h0M1037.4 320.7h0M1039.8 320.9h0M1042.3 321.1h0M1044.7 321.4h0M1047.1 321.6h0M1049.5 321.9h0M1052 322.1h0M1054.4 322.3h0M1056.8 322.6h0M1059.2 322.8h0M1061.7 323.1h0M1064.1 323.3h0M1066.5 323.6h0M1068.9 323.9h0M1071.3 324.1h0M1073.7 324.4h0M1076.2 324.7h0M1078.6 325h0M1081 325.2h0M1083.4 325.5h0M1085.8 325.7h0M1088.2 325.9h0M1090.6 326.2h0M1093 326.4h0M1095.4 326.6h0M1097.8 326.9h0M1100.2 327.1h0M1102.6 327.3h0M1105 327.5h0M1107.4 327.6h0M1109.8 327.4h0M1112.2 327.1h0M1114.6 326.8h0M1117 326.4h0M1119.4 325.7h0M1121.8 324.8h0M1124.2 323.9h0M1126.6 323h0M1129 321.9h0M1131.4 320.8h0M1133.8 319.6h0M1136.2 318.4h0M1138.5 317.2h0M1140.9 316h0M1143.3 314.8h0M1145.7 313.6h0M1148.1 312.5h0M1150.5 311.3h0M1152.9 310.1h0M1155.3 308.9h0M1157.7 307.7h0M1160.1 306.7h0M1162.5 305.7h0M1164.9 304.8h0M1167.3 304h0M1169.6 303.1h0M1172 302.5h0M1174.4 301.9h0" stroke="#00f" stroke-width="6.0" stroke-linecap="round"/>
</g>
<path d="M96.1 279.1h2.9M96.1 273.3h5.6M96.1 234.9h2.9M96.1 212.5h2.9M96.1 196.6h2.9M96.1 184.2h2.9M96.1 174.1h2.9M96.1 165.6h2.9M96.1 158.2h2.9M96.1 151.7h2.9M96.1 145.8h5.6M96.1 107.5h2.9M96.1 85h2.9M96.1 69.1h2.9M96.1 56.8h2.9M96.1 46.7h2.9M96.1 38.1h2.9M96.1 30.8h2.9M96.1 24.2h2.9M96.1 18.4h5.6M96.1 278.8v-5.6M126.8 278.8v-2.9M144.7 278.8v-2.9M157.4 278.8v-2.9M167.3 278.8v-2.9M175.4 278.8v-2.9M182.2 278.8v-2.9M188.1 278.8v-2.9M193.3 278.8v-2.9M198 278.8v-5.6M228.6 278.8v-2.9M246.6 278.8v-2.9M259.3 278.8v-2.9M269.2 278.8v-2.9M277.2 278.8v-2.9M284 278.8v-2.9M289.9 278.8v-2.9M295.2 278.8v-2.9M299.8 278.8v-5.6M330.5 278.8v-2.9M348.4 278.8v-2.9M361.1 278.8v-2.9M371 278.8v-2.9M379.1 278.8v-2.9M385.9 278.8v-2.9M391.8 278.8v-2.9M397 278.8v-2.9M401.7 278.8v-5.6M432.3 278.8v-2.9M450.3 278.8v-2.9M463 278.8v-2.9M472.9 278.8v-2.9M480.9 278.8v-2.9M487.8 278.8v-2.9M493.7 278.8v-2.9M498.9 278.8v-2.9M503.5 278.8v-5.6M534.2 278.8v-2.9M552.1 278.8v-2.9M564.9 278.8v-2.9M574.7 278.8v-2.9M582.8 278.8v-2.9M589.6 278.8v-2.9M595.5 278.8v-2.9M600.7 278.8v-2.9M605.4 278.8v-5.6M96.1 408.8v-5.6M126.8 408.8v-2.9M144.7 408.8v-2.9M157.4 408.8v-2.9M167.3 408.8v-2.9M175.4 408.8v-2.9M182.2 408.8v-2.9M188.1 408.8v-2.9M193.3 408.8v-2.9M198 408.8v-5.6M228.6 408.8v-2.9M246.6 408.8v-2.9M259.3 408.8v-2.9M269.2 408.8v-2.9M277.2 408.8v-2.9M284 408.8v-2.9M289.9 408.8v-2.9M295.2 408.8v-2.9M299.8 408.8v-5.6M330.5 408.8v-2.9M348.4 408.8v-2.9M361.1 408.8v-2.9M371 408.8v-2.9M379.1 408.8v-2.9M385.9 408.8v-2.9M391.8 408.8v-2.9M397 408.8v-2.9M401.7 408.8v-5.6M432.3 408.8v-2.9M450.3 408.8v-2.9M463 408.8v-2.9M472.9 408.8v-2.9M480.9 408.8v-2.9M487.8 408.8v-2.9M493.7 408.8v-2.9M498.9 408.8v-2.9M503.5 408.8v-5.6M534.2 408.8v-2.9M552.1 408.8v-2.9M564.9 408.8v-2.9M574.7 408.8v-2.9M582.8 408.8v-2.9M589.6 408.8v-2.9M595.5 408.8v-2.9M600.7 408.8v-2.9M605.4 408.8v-5.6M96.1 404.4h2.9M96.1 399.4h5.6M96.1 394.3h2.9M96.1 389.3h2.9M96.1 384.3h2.9M96.1 379.3h2.9M96.1 374.3h5.6M96.1 369.3h2.9M96.1 364.3h2.9M96.1 359.3h2.9M96.1 354.3h2.9M96.1 349.2h5.6M96.1 344.2h2.9M96.1 339.2h2.9M96.1 334.2h2.9M96.1 329.2h2.9M96.1 324.2h5.6M96.1 319.2h2.9M96.1 314.2h2.9M96.1 309.1h2.9M96.1 304.1h2.9M96.1 299.1h5.6M96.1 294.1h2.9M96.1 289.1h2.9" stroke="#000" stroke-width="1.0" fill="none"/>
<path d="M96.1 18.4V408.8M96.1 278.8H605.4M96.1 408.8H605.4" stroke="#000" stroke-width="1.75" fill="none" stroke-linecap="square"/>
<path d="M666.3 279.1h2.9M666.3 273.3h5.6M666.3 234.9h2.9M666.3 212.5h2.9M666.3 196.6h2.9M666.3 184.2h2.9M666.3 174.1h2.9M666.3 165.6h2.9M666.3 158.2h2.9M666.3 151.7h2.9M666.3 145.8h5.6M666.3 107.5h2.9M666.3 85h2.9M666.3 69.1h2.9M666.3 56.8h2.9M666.3 46.7h2.9M666.3 38.1h2.9M666.3 30.8h2.9M666.3 24.2h2.9M666.3 18.4h5.6M666.3 278.8v-5.6M697 278.8v-2.9M714.9 278.8v-2.9M727.6 278.8v-2.9M737.5 278.8v-2.9M745.6 278.8v-2.9M752.4 278.8v-2.9M758.3 278.8v-2.9M763.5 278.8v-2.9M768.2 278.8v-5.6M798.8 278.8v-2.9M816.8 278.8v-2.9M829.5 278.8v-2.9M839.4 278.8v-2.9M847.4 278.8v-2.9M854.2 278.8v-2.9M860.1 278.8v-2.9M865.4 278.8v-2.9M870 278.8v-5.6M900.7 278.8v-2.9M918.6 278.8v-2.9M931.3 278.8v-2.9M941.2 278.8v-2.9M949.3 278.8v-2.9M956.1 278.8v-2.9M962 278.8v-2.9M967.2 278.8v-2.9M971.9 278.8v-5.6M1002.5 278.8v-2.9M1020.5 278.8v-2.9M1033.2 278.8v-2.9M1043.1 278.8v-2.9M1051.1 278.8v-2.9M1058 278.8v-2.9M1063.9 278.8v-2.9M1069.1 278.8v-2.9M1073.7 278.8v-5.6M1104.4 278.8v-2.9M1122.3 278.8v-2.9M1135.1 278.8v-2.9M1144.9 278.8v-2.9M1153 278.8v-2.9M1159.8 278.8v-2.9M1165.7 278.8v-2.9M1170.9 278.8v-2.9M1175.6 278.8v-5.6M666.3 408.8v-5.6M697 408.8v-2.9M714.9 408.8v-2.9M727.6 408.8v-2.9M737.5 408.8v-2.9M745.6 408.8v-2.9M752.4 408.8v-2.9M758.3 408.8v-2.9M763.5 408.8v-2.9M768.2 408.8v-5.6M798.8 408.8v-2.9M816.8 408.8v-2.9M829.5 408.8v-2.9M839.4 408.8v-2.9M847.4 408.8v-2.9M854.2 408.8v-2.9M860.1 408.8v-2.9M865.4 408.8v-2.9M870 408.8v-5.6M900.7 408.8v-2.9M918.6 408.8v-2.9M931.3 408.8v-2.9M941.2 408.8v-2.9M949.3 408.8v-2.9M956.1 408.8v-2.9M962 408.8v-2.9M967.2 408.8v-2.9M971.9 408.8v-5.6M1002.5 408.8v-2.9M1020.5 408.8v-2.9M1033.2 408.8v-2.9M1043.1 408.8v-2.9M1051.1 408.8v-2.9M1058 408.8v-2.9M1063.9 408.8v-2.9M1069.1 408.8v-2.9M1073.7 408.8v-5.6M1104.4 408.8v-2.9M1122.3 408.8v-2.9M1135.1 408.8v-2.9M1144.9 408.8v-2.9M1153 408.8v-2.9M1159.8 408.8v-2.9M1165.7 408.8v-2.9M1170.9 408.8v-2.9M1175.6 408.8v-5.6M666.3 406h2.9M666.3 402.5h2.9M666.3 398.9h2.9M666.3 395.4h5.6M666.3 391.9h2.9M666.3 388.3h2.9M666.3 384.8h2.9M666.3 381.3h2.9M666.3 377.7h5.6M666.3 374.2h2.9M666.3 370.6h2.9M666.3 367.1h2.9M666.3 363.6h2.9M666.3 360h5.6M666.3 356.5h2.9M666.3 353h2.9M666.3 349.4h2.9M666.3 345.9h2.9M666.3 342.4h5.6M666.3 338.8h2.9M666.3 335.3h2.9M666.3 331.8h2.9M666.3 328.2h2.9M666.3 324.7h5.6M666.3 321.1h2.9M666.3 317.6h2.9M666.3 314.1h2.9M666.3 310.5h2.9M666.3 307h5.6M666.3 303.5h2.9M666.3 299.9h2.9M666.3 296.4h2.9M666.3 292.9h2.9M666.3 289.3h5.6M666.3 285.8h2.9M666.3 282.2h2.9M666.3 278.7h2.9" stroke="#000" stroke-width="1.0" fill="none"/>
<path d="M666.3 18.4V408.8M666.3 278.8H1175.6M666.3 408.8H1175.6" stroke="#000" stroke-width="1.75" fill="none" stroke-linecap="square"/>
<g font-family="Liberation Serif, serif" font-size="20.8" fill="#000" style="filter:grayscale(1)">
<text x="63.3" y="23.6">10</text><text x="84.9" y="16.2" font-size="14.6" textLength="6.3" lengthAdjust="spacingAndGlyphs">3</text>
<text x="63.3" y="151">10</text><text x="84.9" y="143.6" font-size="14.6" textLength="6.3" lengthAdjust="spacingAndGlyphs">2</text>
<text x="63.3" y="278.5">10</text><text x="84.9" y="271.1" font-size="14.6" textLength="6.3" lengthAdjust="spacingAndGlyphs">1</text>
<text x="77.9" y="429.4">10</text><path d="M100 418.6h8.6" stroke="#000" stroke-width="0.8"/><text x="109.5" y="422" font-size="14.6" textLength="6.3" lengthAdjust="spacingAndGlyphs">2</text>
<text x="179.8" y="429.4">10</text><path d="M201.9 418.6h8.6" stroke="#000" stroke-width="0.8"/><text x="211.4" y="422" font-size="14.6" textLength="6.3" lengthAdjust="spacingAndGlyphs">1</text>
<text x="286.6" y="429.4">10</text><text x="308.2" y="422" font-size="14.6" textLength="6.3" lengthAdjust="spacingAndGlyphs">0</text>
<text x="388.5" y="429.4">10</text><text x="410.1" y="422" font-size="14.6" textLength="6.3" lengthAdjust="spacingAndGlyphs">1</text>
<text x="490.3" y="429.4">10</text><text x="511.9" y="422" font-size="14.6" textLength="6.3" lengthAdjust="spacingAndGlyphs">2</text>
<text x="592.2" y="429.4">10</text><text x="613.8" y="422" font-size="14.6" textLength="6.3" lengthAdjust="spacingAndGlyphs">3</text>
<text x="90.5" y="304.7" text-anchor="end">0.03</text>
<text x="90.5" y="329.8" text-anchor="end">0.02</text>
<text x="90.5" y="354.8" text-anchor="end">0.01</text>
<text x="90.5" y="379.9" text-anchor="end">0.00</text>
<text x="90.5" y="405" text-anchor="end">0.01</text>
<path d="M39.6 399.2h12.6" stroke="#000" stroke-width="0.9"/>
<text x="298.4" y="453.4" font-size="21.5" xml:space="preserve"><tspan font-style="italic">r</tspan></text>
<path d="M313.3 447.6h13.6" stroke="#000" stroke-width="0.9"/>
<text x="334.3" y="453.4" font-size="21.5"><tspan font-style="italic">r</tspan></text>
<text x="341.4" y="456.6" font-size="15.5">in</text>
<text x="362.3" y="453.4" font-size="20.5" letter-spacing="-0.9">[AU]</text>
<text x="133.2" y="152.2" font-size="22" font-style="italic">τ</text>
<text x="143.2" y="155.2" font-size="14.5" word-spacing="-1.5" xml:space="preserve">550 nm</text>
<path d="M193.4 144.7h13.6M193.4 149.1h13.6" stroke="#000" stroke-width="0.9"/>
<text x="213.8" y="152.2">0.1</text>
<text x="164.9" y="187.3" font-size="22.6">RADMC</text>
<text x="164.9" y="219.6" font-size="21.8">grey</text>
<text x="164.9" y="252.4" font-size="22.4" word-spacing="4.6">freq. dep.</text>
<text x="633.5" y="23.6">10</text><text x="655.1" y="16.2" font-size="14.6" textLength="6.3" lengthAdjust="spacingAndGlyphs">3</text>
<text x="633.5" y="151">10</text><text x="655.1" y="143.6" font-size="14.6" textLength="6.3" lengthAdjust="spacingAndGlyphs">2</text>
<text x="633.5" y="278.5">10</text><text x="655.1" y="271.1" font-size="14.6" textLength="6.3" lengthAdjust="spacingAndGlyphs">1</text>
<text x="648.1" y="429.4">10</text><path d="M670.2 418.6h8.6" stroke="#000" stroke-width="0.8"/><text x="679.7" y="422" font-size="14.6" textLength="6.3" lengthAdjust="spacingAndGlyphs">2</text>
<text x="750" y="429.4">10</text><path d="M772.1 418.6h8.6" stroke="#000" stroke-width="0.8"/><text x="781.6" y="422" font-size="14.6" textLength="6.3" lengthAdjust="spacingAndGlyphs">1</text>
<text x="856.8" y="429.4">10</text><text x="878.4" y="422" font-size="14.6" textLength="6.3" lengthAdjust="spacingAndGlyphs">0</text>
<text x="958.7" y="429.4">10</text><text x="980.3" y="422" font-size="14.6" textLength="6.3" lengthAdjust="spacingAndGlyphs">1</text>
<text x="1060.5" y="429.4">10</text><text x="1082.1" y="422" font-size="14.6" textLength="6.3" lengthAdjust="spacingAndGlyphs">2</text>
<text x="1162.4" y="429.4">10</text><text x="1184" y="422" font-size="14.6" textLength="6.3" lengthAdjust="spacingAndGlyphs">3</text>
<text x="660.7" y="294.9" text-anchor="end">0.1</text>
<text x="660.7" y="312.6" text-anchor="end">0.0</text>
<text x="660.7" y="330.3" text-anchor="end">0.1</text>
<path d="M620.3 324.5h12.6" stroke="#000" stroke-width="0.9"/>
<text x="660.7" y="348" text-anchor="end">0.2</text>
<path d="M620.3 342.2h12.6" stroke="#000" stroke-width="0.9"/>
<text x="660.7" y="365.6" text-anchor="end">0.3</text>
<path d="M620.3 359.8h12.6" stroke="#000" stroke-width="0.9"/>
<text x="660.7" y="383.3" text-anchor="end">0.4</text>
<path d="M620.3 377.5h12.6" stroke="#000" stroke-width="0.9"/>
<text x="660.7" y="401" text-anchor="end">0.5</text>
<path d="M620.3 395.2h12.6" stroke="#000" stroke-width="0.9"/>
<text x="868.6" y="453.4" font-size="21.5" xml:space="preserve"><tspan font-style="italic">r</tspan></text>
<path d="M883.5 447.6h13.6" stroke="#000" stroke-width="0.9"/>
<text x="904.5" y="453.4" font-size="21.5"><tspan font-style="italic">r</tspan></text>
<text x="911.6" y="456.6" font-size="15.5">in</text>
<text x="932.5" y="453.4" font-size="20.5" letter-spacing="-0.9">[AU]</text>
<text x="701.9" y="152.2" font-size="22" font-style="italic">τ</text>
<text x="711.9" y="155.2" font-size="14.5" word-spacing="-1.5" xml:space="preserve">550 nm</text>
<path d="M762.7 144.7h13.6M762.7 149.1h13.6" stroke="#000" stroke-width="0.9"/>
<text x="781.6" y="152.2">100</text>
<text x="735.4" y="187.3" font-size="22.6">RADMC</text>
<text x="735.4" y="219.6" font-size="21.8">grey</text>
<text x="735.4" y="252.4" font-size="22.4" word-spacing="4.6">freq. dep.</text>
<text transform="translate(48.8 181.8) rotate(-90)" font-size="22.3"><tspan font-style="italic">T</tspan></text>
<text transform="translate(52.3 168.6) rotate(-90)" font-size="15">gas</text>
<text transform="translate(48.8 142.0) rotate(-90)" font-size="21.6" letter-spacing="-1.2">[K]</text>
<text transform="translate(28.4 422.6) rotate(-90)" font-size="21">Relative difference</text>
</g>
<path d="M116.5 179.1H153.2" stroke="#f00" stroke-width="1.8"/>
<path d="M134.8 174.1l5.2 10.5h-10.5z" fill="#f00"/>
<path d="M116.5 211.8H153.2" stroke="#008000" stroke-width="1.8" stroke-dasharray="8.33 8.33"/>
<circle cx="134.8" cy="211.8" r="3" fill="#008000"/>
<path d="M116.5 244.9H153.2" stroke="#00f" stroke-width="1.8" stroke-dasharray="1.45 4.11"/>
<circle cx="134.8" cy="244.9" r="3" fill="#00f"/>
<path d="M687.3 179.1H724" stroke="#f00" stroke-width="1.8"/>
<path d="M705.6 174.1l5.2 10.5h-10.5z" fill="#f00"/>
<path d="M687.3 211.8H724" stroke="#008000" stroke-width="1.8"/>
<circle cx="705.6" cy="211.8" r="3" fill="#008000"/>
<path d="M687.3 244.9H724" stroke="#00f" stroke-width="1.8" stroke-dasharray="1.45 4.11"/>
<circle cx="705.6" cy="244.9" r="3" fill="#00f"/>
</svg>
</body></html>
